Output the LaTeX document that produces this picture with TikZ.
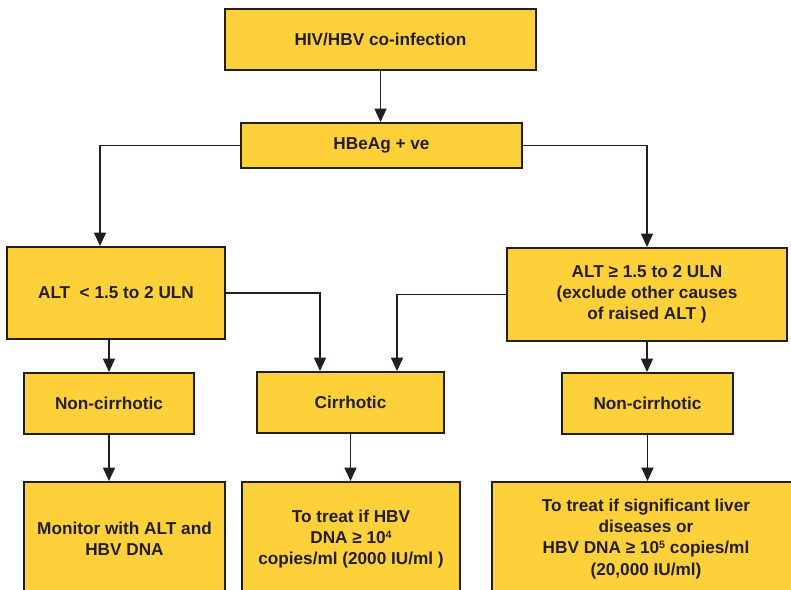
\documentclass[tikz,border=0pt]{standalone}
\usepackage{fontspec}
\setmainfont{Liberation Sans}
\usetikzlibrary{arrows.meta,calc}
\definecolor{boxyellow}{RGB}{254,208,58}
\definecolor{inkgray}{RGB}{35,31,32}
\tikzset{
  box/.style 2 args={draw=inkgray, line width=1.5pt, fill=boxyellow, inner sep=0pt,
    align=center, text=inkgray, font=\bfseries\fontsize{12.9}{15.8}\selectfont,
    minimum width=#1*0.75pt, minimum height=#2*0.75pt},
  link/.style={draw=inkgray, line width=1pt, -{Triangle[width=9pt,length=10pt]}}
}
\newcommand{\supnum}[1]{\raisebox{0.55ex}{\fontsize{8}{8}\selectfont #1}}
\begin{document}
\begin{tikzpicture}[x=0.75pt,y=0.75pt,yscale=-1,xscale=1]
\useasboundingbox (0,0) rectangle (791,589);
\clip (0,0) rectangle (791,589);
% Boxes
\node[box={311}{61}] (coinf) at (380.5,39.5) {HIV/HBV co-infection};
\node[box={281}{45}] (hbeag) at (381.5,145.5) {HBeAg + ve};
\node[box={218}{92}] (altlow) at (116,293) {ALT\hspace{0.55em}< 1.5 to 2 ULN};
\node[box={280}{93}] (althigh) at (647,294.5) {ALT ≥ 1.5 to 2 ULN\\(exclude other causes\\of raised ALT )};
\node[box={170}{61}] (noncirl) at (109,403.5) {Non-cirrhotic};
\node[box={187}{61}] (cirr) at (350.5,402.5) {Cirrhotic};
\node[box={171}{61}] (noncirr) at (647.5,403.5) {Non-cirrhotic};
\node[box={201}{114}] (monitor) at (124.5,539) {Monitor with ALT and\\HBV DNA};
\node[box={218}{114}] (treatcir) at (351,539) {To treat if HBV\\DNA ≥ 10\supnum{4}\\copies/ml (2000 IU/ml )};
\node[box={308}{114}] (treatnon) at (646,539) {To treat if significant liver\\diseases or\\HBV DNA ≥ 10\supnum{5} copies/ml\\(20,000 IU/ml)};
% Connectors
\draw[link] (coinf.south) -- (coinf.south |- hbeag.north);
\draw[link] (hbeag.west) -| ($(altlow.north)+(-16,0)$);
\draw[link] (hbeag.east) -| (althigh.north);
\draw[link] (noncirl.north |- altlow.south) -- (noncirl.north);
\draw[link] (altlow.east) -| ($(cirr.north)+(-30.5,0)$);
\draw[link] (althigh.west) -| ($(cirr.north)+(46.5,0)$);
\draw[link] (althigh.south) -- (althigh.south |- noncirr.north);
\draw[link] (noncirl.south) -- (noncirl.south |- monitor.north);
\draw[link] (cirr.south) -- (cirr.south |- treatcir.north);
\draw[link] (noncirr.south) -- (noncirr.south |- treatnon.north);
\end{tikzpicture}
\end{document}
